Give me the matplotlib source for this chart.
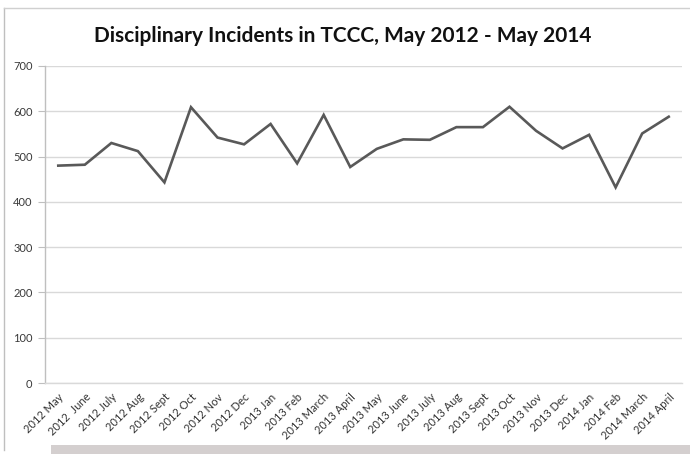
import matplotlib
matplotlib.use("Agg")
import matplotlib.pyplot as plt
from matplotlib.patches import Rectangle
from matplotlib.lines import Line2D
from matplotlib.transforms import ScaledTranslation

months = ["2012 May", "2012  June", "2012 July", "2012 Aug", "2012 Sept", "2012 Oct",
          "2012 Nov", "2012 Dec", "2013 Jan", "2013 Feb", "2013 March", "2013 April",
          "2013 May", "2013 June", "2013 July", "2013 Aug", "2013 Sept", "2013 Oct",
          "2013 Nov", "2013 Dec", "2014 Jan", "2014 Feb", "2014 March", "2014 April"]
incidents = [480, 482, 530, 512, 443, 609, 542, 527, 572, 485, 592, 477,
             517, 538, 537, 565, 565, 610, 557, 518, 548, 432, 551, 588]
yticks = [0, 100, 200, 300, 400, 500, 600, 700]

W, H = 690, 454
fig = plt.figure(figsize=(W / 100, H / 100), dpi=100)
fig.patch.set_facecolor("white")

# axes region in pixels
x0, x1 = 45, 682
y_top, y_bot = 66, 383
ax = fig.add_axes([x0 / W, 1 - y_bot / H, (x1 - x0) / W, (y_bot - y_top) / H])

n = len(incidents)
xs = list(range(n))
ax.plot(xs, incidents, color="#595959", linewidth=1.9, solid_joinstyle="miter")
ax.set_xlim(-0.5, n - 0.5)
ax.set_ylim(0, 700)
ax.set_yticks(yticks)
ax.set_yticklabels([str(v) for v in yticks], fontsize=8, color="#3a3a3a", family="Lato")
ax.yaxis.grid(True, color="#d9d9d9", linewidth=1)
ax.set_axisbelow(True)
ax.set_xticks(xs)
ax.set_xticklabels(months, rotation=45, ha="right", va="top", rotation_mode="anchor",
                   fontsize=8, color="#333333", family="Lato")
offset = ScaledTranslation(5 / 100, 0, fig.dpi_scale_trans)
for lbl in ax.get_xticklabels():
    lbl.set_transform(lbl.get_transform() + offset)
ax.tick_params(axis="x", length=0, pad=6)
ax.tick_params(axis="y", length=5, color="#bfbfbf", pad=4)
for s in ["top", "right"]:
    ax.spines[s].set_visible(False)
ax.spines["left"].set_color("#bfbfbf")
ax.spines["bottom"].set_color("#d9d9d9")
ax.spines["left"].set_linewidth(1)
ax.spines["bottom"].set_linewidth(1)

fig.text(343 / W, 1 - 36 / H, "Disciplinary Incidents in TCCC, May 2012 - May 2014",
         ha="center", va="center", fontsize=15, fontweight="bold", color="#111111",
         family="Lato")

# outer chart border (left and top)
fig.add_artist(Line2D([4 / W, 4 / W], [1 - 450 / H, 1 - 8 / H], color="#bfbfbf",
                      linewidth=1, transform=fig.transFigure))
fig.add_artist(Line2D([4 / W, 1], [1 - 8 / H, 1 - 8 / H], color="#d0d0d0",
                      linewidth=1, transform=fig.transFigure))
# gray bar at bottom
fig.add_artist(Rectangle((51 / W, 0), (W - 51) / W, 9 / H, color="#d4cfcf",
                         transform=fig.transFigure, linewidth=0))

fig.savefig("out.png", dpi=100)
